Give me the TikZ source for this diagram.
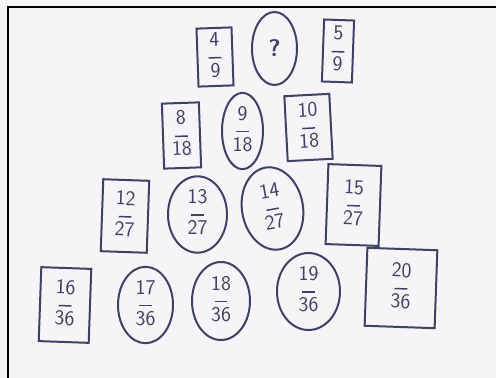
\documentclass[tikz,border=0pt]{standalone}
\usetikzlibrary{shapes.geometric}
\definecolor{pen}{rgb}{0.24,0.26,0.40}
\definecolor{board}{rgb}{0.965,0.955,0.965}
\newcommand\frc[2]{\begin{tabular}{@{}c@{}}#1\\[-7pt]\rule[0.4ex]{0.6em}{1.5pt}\\[-8pt]#2\end{tabular}}
\tikzset{
  cell/.style={draw=pen, line width=2pt, text=pen, inner sep=0pt, font=\sffamily\fontsize{21}{23}\selectfont},
  fbox/.style={cell, rectangle},
  fell/.style={cell, ellipse},
}
\begin{document}
\begin{tikzpicture}[x=1pt,y=-1pt]
\useasboundingbox (0,0) rectangle (496,378);
\fill[board] (0,0) rectangle (496,378);
\draw[black, line width=2.5pt] (8,378) -- (8,7) -- (496,7);
% row 1
\node[fbox, minimum width=35, minimum height=58, rotate=2] (b49) at (215,57) {\frc{4}{9}};
\node[fell, minimum width=45, minimum height=73, font=\sffamily\bfseries\fontsize{24}{26}\selectfont] (e1) at (274.5,48.5) {?};
\node[fbox, minimum width=30, minimum height=62, rotate=-2] (b59) at (338,51) {\frc{5}{9}};
% row 2
\node[fbox, minimum width=37, minimum height=65, rotate=2] (b818) at (181.5,135.5) {\frc{8}{18}};
\node[fell, minimum width=41, minimum height=62] (e918) at (242.5,131) {\frc{9}{18}};
\node[fbox, minimum width=45, minimum height=65, rotate=3] (b1018) at (308.5,127.5) {\frc{10}{18}};
% row 3
\node[fbox, minimum width=46, minimum height=72, rotate=-2] (b1227) at (125,216) {\frc{12}{27}};
\node[fell, minimum width=59, minimum height=75] (e1327) at (197.5,214.5) {\frc{13}{27}};
\node[fell, minimum width=61, minimum height=83, rotate=10] (e1427) at (272.5,208.5) {\frc{14}{27}};
\node[fbox, minimum width=53, minimum height=80, rotate=-2] (b1527) at (353.5,205) {\frc{15}{27}};
% row 4
\node[fbox, minimum width=50, minimum height=74, rotate=-2] (b1636) at (65,305) {\frc{16}{36}};
\node[fell, minimum width=55, minimum height=76] (e1736) at (145.5,305) {\frc{17}{36}};
\node[fell, minimum width=58, minimum height=78] (e1836) at (221,301) {\frc{18}{36}};
\node[fell, minimum width=63, minimum height=77] (e1936) at (308.5,291.5) {\frc{19}{36}};
\node[fbox, minimum width=70, minimum height=78, rotate=-2] (b2036) at (401,288) {\frc{20}{36}};
\end{tikzpicture}
\end{document}
